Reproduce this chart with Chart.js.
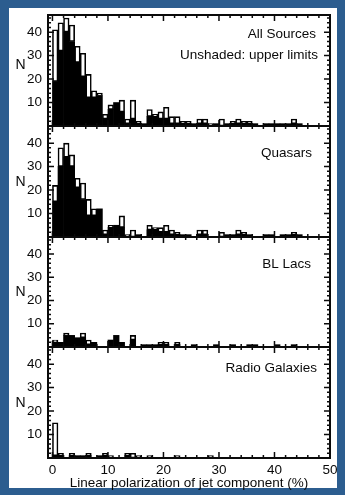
<!DOCTYPE html>
<html>
<head>
<meta charset="utf-8">
<script src="https://cdn.jsdelivr.net/npm/chart.js@4.4.1/dist/chart.umd.min.js"></script>
<style>
  html, body { margin: 0; padding: 0; }
  body { width: 345px; height: 495px; background: #2c5d8f; position: relative; overflow: hidden; }
  #sheet { position: absolute; left: 9px; top: 8px; width: 328px; height: 480px; background: #fff; }
  .panel { position: absolute; left: 0; width: 345px; }
</style>
</head>
<body>
<div id="sheet"></div>
<div class="panel" style="top:9px;height:123px"><canvas id="p1"></canvas></div>
<div class="panel" style="top:120px;height:123px"><canvas id="p2"></canvas></div>
<div class="panel" style="top:231px;height:122px"><canvas id="p3"></canvas></div>
<div class="panel" style="top:341px;height:154px"><canvas id="p4"></canvas></div>
<script>
// bins of 1% in linear polarization
const binCenters = [0.5, 1.5, 2.5, 3.5, 4.5, 5.5, 6.5, 7.5, 8.5, 9.5,
  10.5, 11.5, 12.5, 13.5, 14.5, 15.5, 16.5, 17.5, 18.5, 19.5,
  20.5, 21.5, 22.5, 23.5, 24.5, 25.5, 26.5, 27.5, 28.5, 29.5,
  30.5, 31.5, 32.5, 33.5, 34.5, 35.5, 36.5, 37.5, 38.5, 39.5,
  40.5, 41.5, 42.5, 43.5, 44.5, 45.5, 46.5, 47.5, 48.5, 49.5];
const xTickLabels = [0, 10, 20, 30, 40, 50];
const yTickLabels = [10, 20, 30, 40];

// shaded = detections, unshaded = upper limits (stacked on top)
const allDet = [19, 32, 40, 36, 27, 21, 12, 12, 13, 3, 7, 10, 6, 1, 3, 1, 1, 4, 4, 3,
  3, 1, 1, 1, 1, 1, 1, 1, 0, 1, 0, 1, 1, 1, 1, 1, 1, 0, 1, 1,
  1, 1, 1, 1, 1, 0, 0, 0, 0, 0];
const allLim = [22, 12, 6, 7, 7, 10, 10, 3, 1, 2, 2, 0, 5, 2, 8, 1, 0, 3, 1, 3,
  5, 3, 3, 1, 1, 0, 2, 2, 1, 0, 3, 0, 1, 2, 1, 1, 0, 0, 0, 0,
  0, 0, 0, 2, 0, 0, 0, 0, 0, 0];
const quaDet = [15, 30, 34, 30, 21, 16, 9, 9, 12, 1, 4, 5, 4, 0, 0, 1, 0, 3, 3, 2,
  2, 1, 1, 1, 1, 0, 1, 1, 0, 0, 0, 1, 1, 1, 1, 1, 0, 0, 1, 1,
  0, 1, 1, 1, 1, 0, 0, 0, 0, 0];
const quaLim = [7, 8, 6, 5, 4, 7, 7, 3, 0, 2, 1, 0, 5, 1, 3, 0, 0, 2, 1, 2,
  3, 2, 1, 0, 0, 0, 2, 2, 0, 0, 2, 0, 0, 2, 1, 0, 0, 0, 0, 0,
  0, 0, 0, 1, 0, 0, 0, 0, 0, 0];
const bllDet = [2, 2, 5, 5, 4, 4, 1, 2, 0, 0, 3, 5, 2, 0, 3, 0, 1, 1, 1, 1,
  1, 0, 1, 0, 0, 1, 0, 0, 0, 1, 0, 0, 1, 0, 0, 1, 1, 0, 0, 0,
  1, 0, 0, 1, 0, 0, 0, 0, 0, 0];
const bllLim = [1, 0, 1, 0, 0, 2, 2, 0, 0, 0, 0, 0, 0, 0, 2, 0, 0, 0, 0, 1,
  1, 0, 1, 0, 0, 0, 0, 0, 0, 0, 0, 0, 0, 0, 0, 0, 0, 0, 0, 0,
  0, 0, 0, 0, 0, 0, 0, 0, 0, 0];
const rgDet = [1, 1, 0, 1, 1, 1, 1, 0, 1, 1, 0, 0, 0, 1, 0, 0, 0, 0, 0, 0,
  0, 0, 0, 0, 0, 0, 0, 0, 0, 0, 0, 0, 0, 0, 0, 0, 0, 0, 0, 0,
  0, 0, 0, 0, 0, 0, 0, 0, 0, 0];
const rgLim = [14, 1, 0, 1, 0, 0, 1, 0, 0, 1, 1, 0, 0, 1, 2, 1, 0, 1, 0, 0,
  0, 0, 1, 0, 0, 0, 0, 0, 1, 0, 0, 0, 0, 0, 0, 0, 0, 0, 0, 0,
  0, 0, 0, 0, 0, 0, 0, 0, 0, 0];

const FONT = { family: '"Liberation Sans", Arial, Helvetica, sans-serif', size: 13.5 };
const INK = '#0a0a0a';

// frame with inward ticks on all four sides, the N label and the panel captions
const framePlugin = {
  id: 'frame',
  afterDatasetsDraw(chart, args, opts) {
    const { ctx, chartArea: a, scales: { x, y } } = chart;
    ctx.save();
    ctx.strokeStyle = INK;
    ctx.lineWidth = 1.5;
    ctx.beginPath();
    for (let v = 0; v <= 50; v += 2) {
      const px = x.getPixelForValue(v);
      const len = v % 10 === 0 ? 6 : 3;
      ctx.moveTo(px, a.bottom); ctx.lineTo(px, a.bottom - len);
      ctx.moveTo(px, a.top); ctx.lineTo(px, a.top + len);
    }
    for (let v = 2; v <= 46; v += 2) {
      const py = y.getPixelForValue(v);
      const len = v % 10 === 0 ? 6 : 3;
      ctx.moveTo(a.left, py); ctx.lineTo(a.left + len, py);
      ctx.moveTo(a.right, py); ctx.lineTo(a.right - len, py);
    }
    ctx.stroke();
    ctx.lineWidth = 2;
    ctx.strokeRect(a.left, a.top, a.right - a.left, a.bottom - a.top);

    ctx.fillStyle = INK;
    ctx.font = '14px ' + FONT.family;
    ctx.textAlign = 'center';
    ctx.textBaseline = 'middle';
    ctx.fillText('N', 20.5, y.getPixelForValue(opts.nAt));

    ctx.font = FONT.size + 'px ' + FONT.family;
    ctx.textAlign = 'right';
    opts.captions.forEach(c => ctx.fillText(c.text, c.right, a.top + c.dy));
    ctx.restore();
  }
};

function makePanel(id, det, lim, captions, nAt, bottom) {
  return new Chart(document.getElementById(id), {
    type: 'bar',
    data: {
      labels: binCenters,
      datasets: [
        { data: det, backgroundColor: '#000', borderWidth: 0 },
        { data: lim, backgroundColor: '#fff', borderColor: '#000', borderWidth: 1.6, borderSkipped: false }
      ]
    },
    options: {
      responsive: true,
      maintainAspectRatio: false,
      animation: false,
      barPercentage: 1,
      categoryPercentage: 1,
      layout: { padding: { top: 6, bottom: bottom ? 0 : 6, left: 0, right: 15 } },
      scales: {
        x: {
          type: 'linear',
          min: -0.8,
          max: 50,
          offset: false,
          stacked: true,
          display: bottom,
          grid: { display: false, drawTicks: false, offset: false },
          border: { display: false },
          afterBuildTicks: s => { s.ticks = xTickLabels.map(v => ({ value: v })); },
          ticks: { padding: 4, font: FONT, color: INK, maxRotation: 0, autoSkip: false },
          title: {
            display: bottom,
            text: 'Linear polarization of jet component (%)',
            font: FONT,
            color: INK,
            padding: { top: 0, bottom: 4 }
          },
          afterFit: s => {
            if (bottom) s.height = 37;
            s.paddingLeft = 0; s.paddingRight = 0;
          }
        },
        y: {
          min: 0,
          max: 47.3,
          stacked: true,
          grid: { display: false, drawTicks: false },
          border: { display: false },
          afterBuildTicks: s => { s.ticks = yTickLabels.map(v => ({ value: v })); },
          ticks: { padding: 6, font: FONT, color: INK },
          afterFit: s => {
            s.width = 48;
            s.paddingTop = 0; s.paddingBottom = 0;
          }
        }
      },
      plugins: {
        legend: { display: false },
        tooltip: { enabled: false },
        frame: { captions: captions, nAt: nAt }
      }
    },
    plugins: [framePlugin]
  });
}

makePanel('p1', allDet, allLim, [
  { text: 'All Sources', right: 316, dy: 19 },
  { text: 'Unshaded: upper limits', right: 318, dy: 40 }
], 26, false);
makePanel('p2', quaDet, quaLim, [{ text: 'Quasars', right: 312, dy: 27 }], 23.5, false);
makePanel('p3', bllDet, bllLim, [{ text: 'BL Lacs', right: 311, dy: 27 }], 23.5, false);
makePanel('p4', rgDet, rgLim, [{ text: 'Radio Galaxies', right: 317, dy: 21 }], 23.5, true);
</script>
</body>
</html>
